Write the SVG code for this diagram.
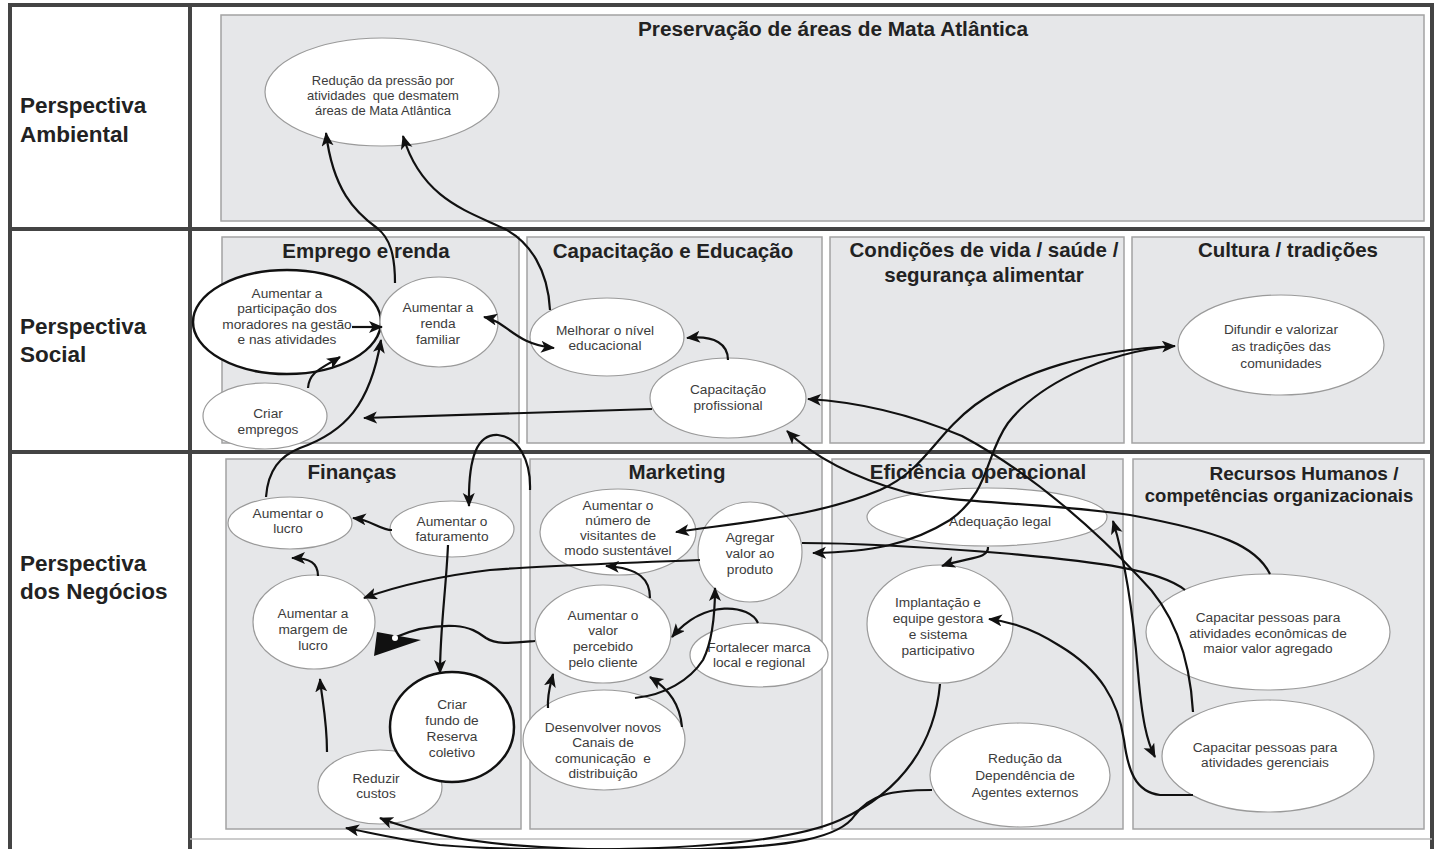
<svg xmlns="http://www.w3.org/2000/svg" width="1435" height="849" viewBox="0 0 1435 849">
<defs>
<style>
.frame{stroke:#444;stroke-width:4;fill:none}
.panel{fill:#e6e7e9;stroke:#a3a3a3;stroke-width:1.5}
.node{fill:#fff;stroke:#9a9a9a;stroke-width:1.2}
.nodeb{fill:#fff;stroke:#111;stroke-width:2.5}
.persp{font-family:"Liberation Sans",Arial,sans-serif;font-weight:bold;font-size:22.5px;fill:#222}
.ptitle{font-family:"Liberation Sans",Arial,sans-serif;font-weight:bold;font-size:20.5px;fill:#222;text-anchor:middle}
.nt{font-family:"Liberation Sans",Arial,sans-serif;font-size:13.7px;fill:#3c3c3c;text-anchor:middle;white-space:pre}
.ns{font-size:13px}
.conn{fill:none;stroke:#111;stroke-width:2.2}
</style>
<marker id="ah" markerUnits="userSpaceOnUse" markerWidth="15" markerHeight="13" refX="13" refY="6" orient="auto-start-reverse" viewBox="0 0 15 13">
<path d="M0,0 L14,6 L0,12 L3.5,6 Z" fill="#111"/>
</marker>
</defs>
<rect x="0" y="0" width="1435" height="849" fill="#fff"/>
<g id="grid">
<line x1="10" y1="5" x2="1432" y2="5" class="frame"/>
<line x1="10" y1="3" x2="10" y2="849" class="frame"/>
<line x1="1432" y1="3" x2="1432" y2="849" class="frame"/>
<line x1="190" y1="3" x2="190" y2="849" class="frame"/>
<line x1="10" y1="229" x2="1432" y2="229" class="frame"/>
<line x1="10" y1="452" x2="1432" y2="452" class="frame"/>
<line x1="190" y1="839" x2="1432" y2="839" stroke="#bbb" stroke-width="1.5"/>
</g>
<g id="perspectives">
<text class="persp" x="20" y="113">Perspectiva</text>
<text class="persp" x="20" y="142">Ambiental</text>
<text class="persp" x="20" y="334">Perspectiva</text>
<text class="persp" x="20" y="362">Social</text>
<text class="persp" x="20" y="571">Perspectiva</text>
<text class="persp" x="20" y="599">dos Negócios</text>
</g>
<g id="panels">
<rect class="panel" x="221" y="15" width="1203" height="206"/>
<text class="ptitle" x="833" y="36" style="font-size:20px" textLength="390" lengthAdjust="spacingAndGlyphs">Preservação de áreas de Mata Atlântica</text>
<rect class="panel" x="222" y="237" width="297" height="206"/>
<text class="ptitle" x="366" y="258">Emprego e renda</text>
<rect class="panel" x="527" y="237" width="295" height="206"/>
<text class="ptitle" x="673" y="258">Capacitação e Educação</text>
<rect class="panel" x="830" y="237" width="294" height="206"/>
<text class="ptitle" x="984" y="257">Condições de vida / saúde /</text>
<text class="ptitle" x="984" y="282">segurança alimentar</text>
<rect class="panel" x="1132" y="237" width="292" height="206"/>
<text class="ptitle" x="1288" y="257">Cultura / tradições</text>
<rect class="panel" x="226" y="459" width="295" height="370"/>
<text class="ptitle" x="352" y="479">Finanças</text>
<rect class="panel" x="530" y="459" width="292" height="370"/>
<text class="ptitle" x="677" y="479">Marketing</text>
<rect class="panel" x="832" y="459" width="291" height="370"/>
<text class="ptitle" x="978" y="479">Eficiência operacional</text>
<rect class="panel" x="1133" y="459" width="291" height="370"/>
<text class="ptitle" x="1304" y="480" style="font-size:19px">Recursos Humanos /</text>
<text class="ptitle" x="1279" y="502" style="font-size:18.5px">competências organizacionais</text>
</g>
<g id="n-reducao-pressao">
<ellipse class="node" cx="382" cy="92" rx="117" ry="54"/>
<text class="nt ns" x="383" y="84.5">Redução da pressão por</text>
<text class="nt ns" x="383" y="99.5">atividades  que desmatem</text>
<text class="nt ns" x="383" y="114.5">áreas de Mata Atlântica</text>
</g>
<g id="n-participacao">
<ellipse class="nodeb" cx="287" cy="322" rx="94" ry="52"/>
<text class="nt" x="287" y="297.5">Aumentar a</text>
<text class="nt" x="287" y="313">participação dos</text>
<text class="nt" x="287" y="328.5">moradores na gestão</text>
<text class="nt" x="287" y="344">e nas atividades</text>
</g>
<g id="n-renda">
<ellipse class="node" cx="439" cy="322" rx="59" ry="45"/>
<text class="nt" x="438" y="311.5">Aumentar a</text>
<text class="nt" x="438" y="327.5">renda</text>
<text class="nt" x="438" y="343.5">familiar</text>
</g>
<g id="n-empregos">
<ellipse class="node" cx="265" cy="416" rx="62" ry="33"/>
<text class="nt" x="268" y="417.5">Criar</text>
<text class="nt" x="268" y="433.5">empregos</text>
</g>
<g id="n-educacional">
<ellipse class="node" cx="607" cy="337" rx="77" ry="39"/>
<text class="nt" x="605" y="334.5">Melhorar o nível</text>
<text class="nt" x="605" y="350">educacional</text>
</g>
<g id="n-capac-prof">
<ellipse class="node" cx="728" cy="398" rx="78" ry="40"/>
<text class="nt" x="728" y="393.5">Capacitação</text>
<text class="nt" x="728" y="409.5">profissional</text>
</g>
<g id="n-difundir">
<ellipse class="node" cx="1281" cy="345" rx="103" ry="50"/>
<text class="nt" x="1281" y="333.5">Difundir e valorizar</text>
<text class="nt" x="1281" y="350.5">as tradições das</text>
<text class="nt" x="1281" y="367.5">comunidades</text>
</g>
<g id="n-lucro">
<ellipse class="node" cx="290" cy="523" rx="62" ry="26"/>
<text class="nt" x="288" y="517.5">Aumentar o</text>
<text class="nt" x="288" y="532.5">lucro</text>
</g>
<g id="n-faturamento">
<ellipse class="node" cx="452" cy="529" rx="62" ry="28"/>
<text class="nt" x="452" y="525.5">Aumentar o</text>
<text class="nt" x="452" y="540.5">faturamento</text>
</g>
<g id="n-margem">
<ellipse class="node" cx="314" cy="622" rx="61" ry="47"/>
<text class="nt" x="313" y="617.5">Aumentar a</text>
<text class="nt" x="313" y="633.5">margem de</text>
<text class="nt" x="313" y="649.5">lucro</text>
</g>
<g id="n-reduzir">
<ellipse class="node" cx="380" cy="787" rx="62" ry="37"/>
<text class="nt" x="376" y="782.5">Reduzir</text>
<text class="nt" x="376" y="797.5">custos</text>
</g>
<g id="n-fundo">
<ellipse class="nodeb" cx="452" cy="727" rx="62" ry="55"/>
<text class="nt" x="452" y="708.5">Criar</text>
<text class="nt" x="452" y="724.5">fundo de</text>
<text class="nt" x="452" y="740.5">Reserva</text>
<text class="nt" x="452" y="756.5">coletivo</text>
</g>
<g id="n-visitantes">
<ellipse class="node" cx="618" cy="532" rx="78" ry="43"/>
<text class="nt" x="618" y="509.5">Aumentar o</text>
<text class="nt" x="618" y="524.5">número de</text>
<text class="nt" x="618" y="539.5">visitantes de</text>
<text class="nt" x="618" y="554.5">modo sustentável</text>
</g>
<g id="n-valor">
<ellipse class="node" cx="603" cy="634" rx="68" ry="49"/>
<text class="nt" x="603" y="619.5">Aumentar o</text>
<text class="nt" x="603" y="635">valor</text>
<text class="nt" x="603" y="651">percebido</text>
<text class="nt" x="603" y="666.5">pelo cliente</text>
</g>
<g id="n-fortalecer">
<ellipse class="node" cx="759" cy="655" rx="69" ry="32"/>
<text class="nt" x="759" y="651.5">Fortalecer marca</text>
<text class="nt" x="759" y="666.5">local e regional</text>
</g>
<g id="n-desenvolver">
<ellipse class="node" cx="604" cy="740" rx="81" ry="50"/>
<text class="nt" x="603" y="731.5">Desenvolver novos</text>
<text class="nt" x="603" y="746.5">Canais de</text>
<text class="nt" x="603" y="762.5">comunicação  e</text>
<text class="nt" x="603" y="777.5">distribuição</text>
</g>
<g id="n-adequacao">
<ellipse class="node" cx="987" cy="517" rx="120" ry="29"/>
<text class="nt" x="1000" y="526">Adequação legal</text>
</g>
<g id="n-implantacao">
<ellipse class="node" cx="940" cy="624" rx="73" ry="59"/>
<text class="nt" x="938" y="606.5">Implantação e</text>
<text class="nt" x="938" y="622.5">equipe gestora</text>
<text class="nt" x="938" y="638.5">e sistema</text>
<text class="nt" x="938" y="654.5">participativo</text>
</g>
<g id="n-dependencia">
<ellipse class="node" cx="1020" cy="775" rx="90" ry="52"/>
<text class="nt" x="1025" y="762.5">Redução da</text>
<text class="nt" x="1025" y="779.5">Dependência de</text>
<text class="nt" x="1025" y="796.5">Agentes externos</text>
</g>
<g id="n-econ">
<ellipse class="node" cx="1268" cy="632" rx="122" ry="58"/>
<text class="nt" x="1268" y="621.5">Capacitar pessoas para</text>
<text class="nt" x="1268" y="637.5">atividades econômicas de</text>
<text class="nt" x="1268" y="653">maior valor agregado</text>
</g>
<g id="n-gerenciais">
<ellipse class="node" cx="1268" cy="756" rx="106" ry="56"/>
<text class="nt" x="1265" y="751.5">Capacitar pessoas para</text>
<text class="nt" x="1265" y="766.5">atividades gerenciais</text>
</g>
<g id="n-agregar">
<ellipse class="node" cx="750" cy="552" rx="52" ry="50"/>
<text class="nt" x="750" y="541.5">Agregar</text>
<text class="nt" x="750" y="557.5">valor ao</text>
<text class="nt" x="750" y="573.5">produto</text>
</g>
<g id="connectors">
<path class="conn" marker-end="url(#ah)" d="M395,283 C395,255 390,238 377,228 C355,212 333,190 326,133"/>
<path class="conn" marker-end="url(#ah)" d="M550,310 C548,270 530,242 505,229 C470,212 422,200 403,136"/>
<path class="conn" marker-end="url(#ah)" d="M352,327 L382,327"/>
<path class="conn" marker-end="url(#ah)" d="M308,388 C309,372 322,368 340,357"/>
<path class="conn" marker-end="url(#ah)" d="M266,497 C268,470 280,456 300,448 C345,432 370,405 381,340"/>
<path class="conn" marker-start="url(#ah)" marker-end="url(#ah)" d="M484,317 C508,322 514,344 554,348"/>
<path class="conn" marker-end="url(#ah)" d="M728,360 C728,345 716,335 687,338"/>
<path class="conn" marker-end="url(#ah)" d="M652,409 C600,410 500,413 364,418"/>
<path class="conn" marker-start="url(#ah)" marker-end="url(#ah)" d="M1175,346 C1090,350 1020,372 975,405 C935,435 925,470 880,490 C820,515 760,520 676,532"/>
<path class="conn" marker-end="url(#ah)" d="M1175,346 C1100,352 1035,388 1008,423 C985,455 990,492 950,520 C910,545 870,552 813,553"/>
<path class="conn" marker-end="url(#ah)" d="M1270,574 C1256,546 1222,532 1130,515 C1050,503 950,503 905,492 C855,478 815,458 787,431"/>
<path class="conn" marker-end="url(#ah)" d="M1193,712 C1190,660 1175,612 1140,578 C1100,535 1035,475 962,436 C912,415 860,402 808,399"/>
<path class="conn" marker-start="url(#ah)" marker-end="url(#ah)" d="M1113,521 C1125,560 1133,612 1138,672 C1142,720 1147,742 1155,757"/>
<path class="conn" marker-end="url(#ah)" d="M1193,795 L1160,795 C1135,792 1128,770 1124,740 C1118,700 1100,670 1060,646 C1040,633 1015,622 989,619"/>
<path class="conn" marker-end="url(#ah)" d="M988,547 C989,559 968,557 942,566"/>
<path class="conn" marker-end="url(#ah)" d="M1185,590 C1160,570 1100,562 1000,553 C900,545 840,543 802,543 M700,560 C620,563 540,566 490,570 C440,576 400,585 364,598"/>
<path class="conn" marker-end="url(#ah)" d="M940,684 C935,740 905,790 840,820 C760,856 520,852 440,845 C400,840 372,833 346,828"/>
<path class="conn" marker-end="url(#ah)" d="M932,790 C890,790 870,795 855,815 C840,838 790,847 700,849 C560,852 450,846 380,818"/>
<path class="conn" marker-end="url(#ah)" d="M650,598 C650,580 640,568 606,566"/>
<path class="conn" marker-end="url(#ah)" d="M758,623 C750,605 705,598 672,637"/>
<path class="conn" marker-end="url(#ah)" d="M635,698 C665,695 690,680 703,660 C713,640 715,615 715,588"/>
<path class="conn" marker-end="url(#ah)" d="M548,708 C547,695 550,686 553,674"/>
<path class="conn" marker-end="url(#ah)" d="M682,727 C680,705 670,690 650,677"/>
<path class="conn" stroke-width="4.5" d="M535,641 C512,643 496,645 486,638 C478,632 470,627 455,626 C432,625 412,630 396,637"/>
<path d="M374,656 L377,632 L421,640 Z" fill="#111"/>
<circle cx="395" cy="638" r="3" fill="#fff"/>
<path class="conn" marker-end="url(#ah)" d="M392,530 C380,530 372,520 353,518"/>
<path class="conn" marker-end="url(#ah)" d="M318,576 C318,563 310,558 292,558"/>
<path class="conn" marker-end="url(#ah)" d="M327,752 C327,720 322,700 320,679"/>
<path class="conn" marker-end="url(#ah)" d="M448,545 C446,590 440,630 440,673"/>
<path class="conn" marker-end="url(#ah)" d="M530,490 C531,460 518,437 498,435 C478,434 468,455 469,506"/>
</g>
</svg>
